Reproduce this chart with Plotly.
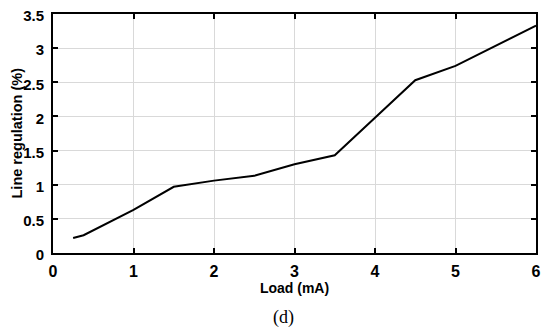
import plotly.graph_objects as go

load_ma = [0.25, 0.38, 1.0, 1.5, 2.0, 2.5, 3.0, 3.5, 4.0, 4.5, 5.0, 6.0]
line_reg = [0.22, 0.26, 0.63, 0.97, 1.06, 1.13, 1.30, 1.43, 1.98, 2.53, 2.74, 3.33]

x_ticks = [0, 1, 2, 3, 4, 5, 6]
y_ticks = [0, 0.5, 1, 1.5, 2, 2.5, 3, 3.5]
y_labels = ["0", "0.5", "1", "1.5", "2", "2.5", "3", "3.5"]

fig = go.Figure()
fig.add_trace(go.Scatter(x=load_ma, y=line_reg, mode="lines",
                         line=dict(color="black", width=2), showlegend=False))

axis_common = dict(
    showline=True, linecolor="black", linewidth=2, mirror="ticks",
    ticks="inside", ticklen=5, tickwidth=1.5, tickcolor="black",
    showgrid=True, gridcolor="#d9d9d9", gridwidth=1, zeroline=False,
    automargin=False, ticklabeloverflow="allow",
)

fig.update_xaxes(range=[0, 6], tickvals=x_ticks, ticktext=[str(v) for v in x_ticks],
                 tickfont=dict(family="Liberation Sans", size=16, color="black", weight="bold"),
                 title=dict(text="Load (mA)", standoff=0,
                            font=dict(family="Liberation Sans", size=14, color="black", weight="bold")),
                 ticklabelstandoff=3, **axis_common)
fig.update_yaxes(range=[0, 3.5], tickvals=y_ticks, ticktext=y_labels,
                 tickfont=dict(family="Liberation Sans", size=15, color="black", weight="bold"),
                 ticklabelstandoff=4, ticklabelshift=2, **axis_common)

fig.add_annotation(text="Line regulation (%)", xref="paper", yref="paper",
                   x=-0.0766, y=0.5, textangle=-90, showarrow=False,
                   xanchor="center", yanchor="middle", borderpad=0,
                   font=dict(family="Liberation Sans", size=14.5, color="black", weight="bold"))

fig.add_annotation(text="(d)", xref="paper", yref="paper", x=0.478, y=-0.268,
                   showarrow=False, yanchor="middle", xanchor="center",
                   font=dict(family="Liberation Serif", size=18, color="black"))

# page body has an 8px margin, so the figure is sized/offset to compensate
fig.update_layout(width=542, height=324, margin=dict(l=45, r=14, t=6, b=79),
                  plot_bgcolor="white", paper_bgcolor="white")

fig.write_html("out.html")
